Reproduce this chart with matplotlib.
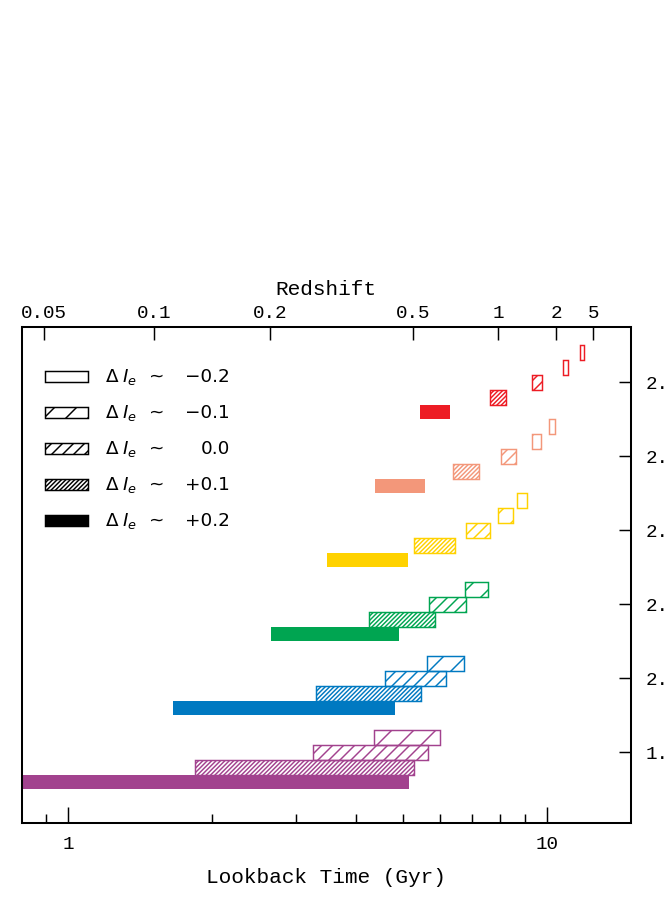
import matplotlib.pyplot as plt
from matplotlib.patches import Rectangle
from matplotlib.ticker import NullFormatter, NullLocator

plt.rcParams['font.family'] = ['Liberation Mono', 'DejaVu Sans']
plt.rcParams['hatch.linewidth'] = 0.8

# groups from bottom (purple) to top (red); label text is cut by the figure edge
groups = ['1.9', '2.0', '2.1', '2.2', '2.3', '2.4']
colors = ['#A2428E', '#0079C1', '#00A551', '#FFD200', '#F3977A', '#ED1C24']

# Delta I_e levels and their fill styles (None = solid)
levels = [0.2, 0.1, 0.0, -0.1, -0.2]
level_labels = ['+0.2', '+0.1', '0.0', '\u22120.1', '\u22120.2']
hatches = [None, '/' * 10, '////', '//', '']

# lookback time range (Gyr) of each box, per group and level
t_start = [
    [0.70, 1.84, 3.25, 4.36, None],
    [1.66, 3.29, 4.60, 5.63, None],
    [2.65, 4.25, 5.69, 6.74, None],
    [3.48, 5.28, 6.80, 7.90, 8.68],
    [4.37, 6.37, 8.02, 9.32, 10.13],
    [5.44, 7.61, 9.32, 10.80, 11.74],
]
t_end = [
    [5.16, 5.28, 5.65, 5.99, None],
    [4.83, 5.47, 6.15, 6.73, None],
    [4.92, 5.84, 6.80, 7.55, None],
    [5.14, 6.44, 7.61, 8.49, 9.11],
    [5.58, 7.22, 8.61, 9.74, 10.42],
    [6.28, 8.22, 9.78, 11.11, 11.96],
]

# top axis: redshift marks at their lookback times
z_labels = ['0.05', '0.1', '0.2', '0.5', '1', '2', '5']
z_lookback = [0.89, 1.51, 2.64, 5.25, 7.91, 10.46, 12.51]

fig = plt.figure(figsize=(664.2 / 132, 902.2 / 132), dpi=132)
ax = fig.add_axes([21.7 / 664, 1 - 822.7 / 902, 609 / 664, 495.7 / 902])

for g in range(len(groups)):
    for k, dI in enumerate(levels):
        s = t_start[g][k]
        if s is None:
            continue
        e = t_end[g][k]
        y = g - 2 * dI
        if hatches[k] is None:
            ax.barh(y, e - s, left=s, height=0.2, color=colors[g], linewidth=0)
        else:
            ax.barh(y, e - s, left=s, height=0.2, facecolor='none',
                    edgecolor=colors[g], hatch=hatches[k], linewidth=0.8)

ax.set_xscale('log')
ax.set_xlim(0.8, 15)
ax.set_ylim(-0.95, 5.75)

ax.set_xticks([1, 10], ['1', '10'])
ax.set_xticks([0.9, 2, 3, 4, 5, 6, 7, 8, 9], minor=True)
ax.xaxis.set_minor_formatter(NullFormatter())
ax.tick_params(axis='x', which='major', direction='in', length=9, width=0.8,
               pad=7, labelsize=10.5, top=False)
ax.tick_params(axis='x', which='minor', direction='in', length=5, width=0.8, top=False)
ax.set_xlabel('Lookback Time (Gyr)', fontsize=11.5, labelpad=8.5)

ax.yaxis.tick_right()
ax.set_yticks(range(len(groups)), groups)
ax.tick_params(axis='y', direction='in', length=6.5, width=0.8, pad=8,
               labelsize=10.5, left=False, right=True, labelleft=False, labelright=True)

tw = ax.twiny()
tw.set_xscale('log')
tw.set_xlim(0.8, 15)
tw.set_xticks(z_lookback, z_labels)
tw.xaxis.set_minor_locator(NullLocator())
tw.tick_params(axis='x', direction='in', length=7, width=0.8, pad=2.5, labelsize=10.5)
tw.set_xlabel('Redshift', fontsize=11.5, labelpad=5.5)

for a in (ax, tw):
    for sp in a.spines.values():
        sp.set_linewidth(1.1)

# legend drawn by hand in axes coordinates
leg_y = [0.900, 0.8275, 0.7549, 0.6823, 0.6096]
for i in range(5):
    k = 4 - i
    if hatches[k] is None:
        box = Rectangle((0.0383, leg_y[i] - 0.0117), 0.0706, 0.0234, transform=ax.transAxes,
                        facecolor='black', edgecolor='black', linewidth=0.8)
    else:
        box = Rectangle((0.0383, leg_y[i] - 0.0117), 0.0706, 0.0234, transform=ax.transAxes,
                        facecolor='none', edgecolor='black', hatch=hatches[k], linewidth=0.8)
    ax.add_patch(box)
    ax.text(0.136, leg_y[i], r'$\Delta\;I_e$  ~', transform=ax.transAxes,
            family='DejaVu Sans', fontsize=10, va='center', ha='left')
    ax.text(0.342, leg_y[i], level_labels[k], transform=ax.transAxes,
            family='DejaVu Sans', fontsize=10, va='center', ha='right')

fig.savefig('out.png', dpi=132)
